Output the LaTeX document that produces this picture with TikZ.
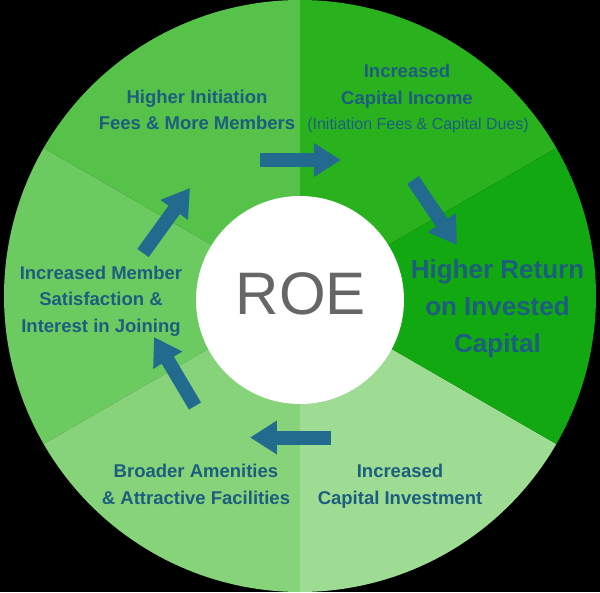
\documentclass[tikz,border=0pt]{standalone}
\usepackage{fontspec}
\setmainfont{Liberation Sans}
\usepackage{xcolor}
\usetikzlibrary{arrows.meta}

\definecolor{wedgeA}{HTML}{2AB21E}
\definecolor{wedgeB}{HTML}{56C24A}
\definecolor{wedgeC}{HTML}{6CCB60}
\definecolor{wedgeD}{HTML}{86D37A}
\definecolor{wedgeE}{HTML}{9EDB93}
\definecolor{wedgeF}{HTML}{12A812}
\definecolor{txtblue}{HTML}{1D5E7E}
\definecolor{arrblue}{HTML}{236B8E}
\definecolor{roegray}{HTML}{666666}

\begin{document}
\begin{tikzpicture}[x=1pt,y=1pt,
		lbl/.style={text=txtblue,font=\bfseries\fontsize{18.5}{26.5}\selectfont,align=center,inner sep=0pt},
		arr/.style={draw=arrblue,line width=14pt,-{Triangle[length=27pt,width=32pt]}}]
		\useasboundingbox (-300,-296) rectangle (300,296);
		\fill[black] (-300,-296) rectangle (300,296);
		% the six slices
		\foreach \a/\col in {30/wedgeA,90/wedgeB,150/wedgeC,210/wedgeD,270/wedgeE,330/wedgeF}
			\fill[\col] (0,0) -- (\a:296) arc (\a:\a+60:296) -- cycle;
		\fill[white] (0,-4) circle (104);
		\node[text=roegray,font=\fontsize{60}{60}\selectfont,inner sep=0pt] (roe) at (1,2) {ROE};

		% labels
		\node[lbl] (fees) at (-103,186) {Higher Initiation\\Fees \& More Members};
		\node[lbl] (income) at (107,210) {Increased\\Capital Income};
		\node[text=txtblue,font=\fontsize{16}{20}\selectfont,inner sep=0pt] (incnote) at (118,170.5) {(Initiation Fees \& Capital Dues)};
		\node[lbl,font=\bfseries\fontsize{26}{37}\selectfont] (return) at (197.5,-13) {Higher Return\\on Invested\\Capital};
		\node[lbl] (invest) at (100,-190) {Increased\\Capital Investment};
		\node[lbl] (amen) at (-104,-188.5) {Broader Amenities\\\& Attractive Facilities};
		\node[lbl] (member) at (-199,-5) {Increased Member\\Satisfaction \&\\Interest in Joining};

		% arrows
		\coordinate (a1) at (-40,136);
		\coordinate (b1) at (41,136);
		\coordinate (a2) at (113,116);
		\coordinate (b2) at (157,51);
		\coordinate (a3) at (31,-141.5);
		\coordinate (b3) at (-50,-141.5);
		\coordinate (a4) at (-105,-110);
		\coordinate (b4) at (-146,-41);
		\coordinate (a5) at (-157,43);
		\coordinate (b5) at (-110,108);
		\draw[arr] (a1) -- (b1);
		\draw[arr] (a2) -- (b2);
		\draw[arr] (a3) -- (b3);
		\draw[arr] (a4) -- (b4);
		\draw[arr] (a5) -- (b5);
\end{tikzpicture}
\end{document}
